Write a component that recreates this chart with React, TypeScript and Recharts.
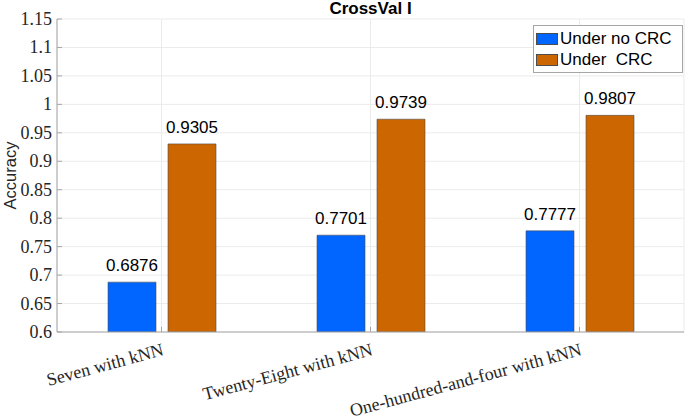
import React from 'react'
import { BarChart, Bar, XAxis, YAxis, CartesianGrid, Legend, LabelList } from 'recharts'

const CATEGORIES = ['Seven with kNN', 'Twenty-Eight with kNN', 'One-hundred-and-four with kNN']
const NO_CRC = [0.6876, 0.7701, 0.7777]
const WITH_CRC = [0.9305, 0.9739, 0.9807]
const Y_TICKS = [0.6, 0.65, 0.7, 0.75, 0.8, 0.85, 0.9, 0.95, 1, 1.05, 1.1, 1.15]
const SERIES = [
  { key: 'noCrc', name: 'Under no CRC', color: '#0066FF' },
  { key: 'crc', name: 'Under  CRC', color: '#CC6600' },
]

const data = CATEGORIES.map((name, i) => ({ name, noCrc: NO_CRC[i], crc: WITH_CRC[i] }))

const SANS = "'Liberation Sans', Arial, sans-serif"
const SERIF = "'Liberation Serif', 'Times New Roman', serif"
const AXIS = '#a6a6a6'

// rotated serif category labels, anchored at their right end
function XTick({ x, y, payload }: any) {
  const ax = x + 3
  return (
    <text x={ax} y={y - 1} textAnchor="end" transform={`rotate(-15, ${ax}, ${y - 1})`}
      fontFamily={SERIF} fontSize={18} fill="#262626">
      {payload.value}
    </text>
  )
}

function YTick({ x, y, payload }: any) {
  return (
    <text x={x} y={y} textAnchor="end" dominantBaseline="central"
      fontFamily={SERIF} fontSize={18} fill="#262626">
      {String(payload.value)}
    </text>
  )
}

function YLabel({ viewBox }: any) {
  const cx = viewBox.x + 10
  const cy = viewBox.y + viewBox.height / 2
  return (
    <text x={cx} y={cy} textAnchor="middle" dominantBaseline="central"
      transform={`rotate(-90, ${cx}, ${cy})`} fontFamily={SANS} fontSize={16.5} fill="#262626">
      Accuracy
    </text>
  )
}

function LegendBox() {
  return (
    <div style={{ border: `1px solid ${AXIS}`, background: '#fff', padding: '2px 2px', width: 150, boxSizing: 'border-box' }}>
      {SERIES.map(s => (
        <div key={s.key} style={{ display: 'flex', alignItems: 'center', height: 21 }}>
          <span style={{ width: 22, height: 12, background: s.color, border: '1px solid #4d4d4d', marginRight: 2, boxSizing: 'border-box' }} />
          <span style={{ whiteSpace: 'pre', fontFamily: SANS, fontSize: 17, color: '#000', lineHeight: '21px' }}>{s.name}</span>
        </div>
      ))}
    </div>
  )
}

export default function App() {
  return (
    <div style={{ position: 'absolute', left: 0, top: 0, width: 685, height: 420, background: '#fff' }}>
      <div style={{ position: 'absolute', left: 0, width: 741, top: -1, textAlign: 'center',
        fontFamily: SANS, fontWeight: 'bold', fontSize: 17, color: '#000' }}>
        CrossVal I
      </div>
      <BarChart width={685} height={420} data={data}
        margin={{ top: 19, right: 1, bottom: 0, left: 0 }} barSize={48} barGap={12}>
        <CartesianGrid stroke="#ebebeb" />
        <XAxis dataKey="name" height={88} stroke={AXIS} tickSize={-5} tickMargin={29}
          tick={<XTick />} interval={0} />
        <XAxis xAxisId="top" orientation="top" dataKey="name" height={0} stroke={AXIS}
          tickSize={-5} tick={<g />} />
        <YAxis domain={[0.6, 1.15]} ticks={Y_TICKS} width={57} stroke={AXIS} tickSize={-5}
          tickMargin={10} allowDataOverflow tick={<YTick />} label={<YLabel />} />
        <YAxis yAxisId="right" orientation="right" domain={[0.6, 1.15]} ticks={Y_TICKS} width={0}
          stroke={AXIS} tickSize={-5} tick={<g />} allowDataOverflow />
        <Legend layout="vertical" align="center" verticalAlign="middle" content={<LegendBox />}
          wrapperStyle={{ left: 533, top: 25, width: 150 }} />
        {SERIES.map(s => (
          <Bar key={s.key} dataKey={s.key} name={s.name} fill={s.color} stroke="#4d4d4d"
            strokeWidth={0.6} isAnimationActive={false}>
            <LabelList dataKey={s.key} position="top" offset={11} fill="#000" fontSize={17}
              fontFamily={SANS} formatter={(v: any) => Number(v).toFixed(4)} />
          </Bar>
        ))}
      </BarChart>
    </div>
  )
}
